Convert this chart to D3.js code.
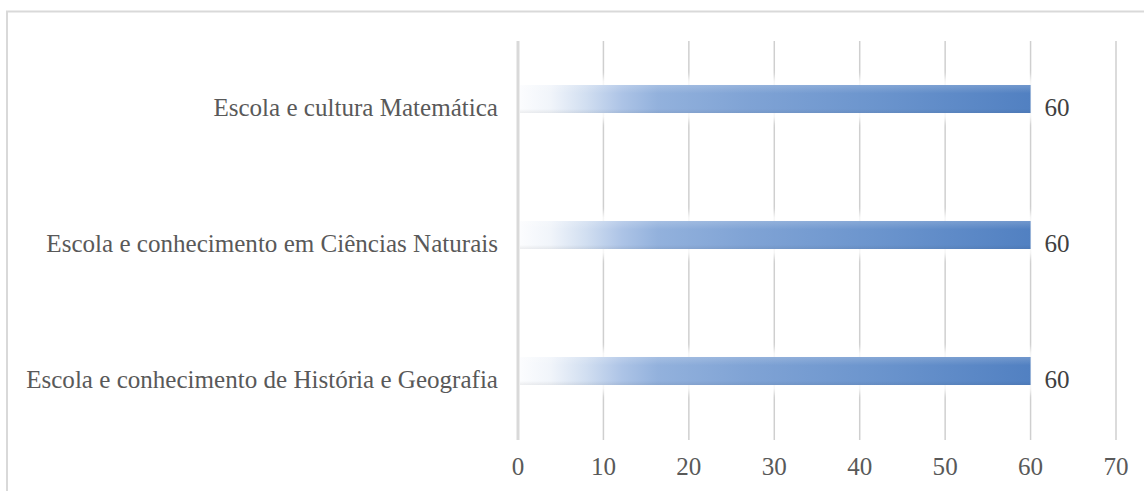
<!DOCTYPE html>
<html>
<head>
<meta charset="utf-8">
<script src="https://cdn.jsdelivr.net/npm/d3@7"></script>
<style>
  html, body { margin: 0; padding: 0; background: #ffffff; }
  svg { display: block; }
  text { font-family: "Liberation Serif", "Times New Roman", serif; }
</style>
</head>
<body>
<svg id="chart" width="1144" height="491"></svg>
<script>
// Categories, top to bottom
const categories = [
  "Escola e cultura Matemática",
  "Escola e conhecimento em Ciências Naturais",
  "Escola e conhecimento de História e Geografia"
];
// Value of each category
const values = [60, 60, 60];
// Tick labels of the value axis
const xTicks = [0, 10, 20, 30, 40, 50, 60, 70];

const svg = d3.select("#chart");
const W = 1144, H = 491;

// Frame around the chart (runs past the right and bottom edges)
svg.append("rect")
  .attr("x", 7).attr("y", 11.5)
  .attr("width", W + 20).attr("height", H + 20)
  .attr("fill", "none")
  .attr("stroke", "#d9d9d9")
  .attr("stroke-width", 2);

const plotTop = 41, plotBottom = 440;

const x = d3.scaleLinear().domain([0, 70]).range([518, 1116]);
const y = d3.scaleBand()
  .domain(categories)
  .range([31, 439])
  .paddingInner(0.794)
  .paddingOuter(0.397);

// Bar gradient: fades in from white on the left to a steel blue on the right
const defs = svg.append("defs");
const grad = defs.append("linearGradient")
  .attr("id", "barGrad")
  .attr("x1", "0%").attr("x2", "100%").attr("y1", "0%").attr("y2", "0%");
[
  [0.00, "#fbfcfe"],
  [0.06, "#f0f4fa"],
  [0.13, "#cfddf0"],
  [0.20, "#a9c1e5"],
  [0.27, "#8eaedb"],
  [0.45, "#7a9fd3"],
  [0.70, "#6590cb"],
  [1.00, "#4a7bbf"]
].forEach(([o, c]) => grad.append("stop").attr("offset", o).attr("stop-color", c));

const vGrad = defs.append("linearGradient")
  .attr("id", "barShade")
  .attr("x1", "0").attr("x2", "0").attr("y1", "0").attr("y2", "1");
vGrad.append("stop").attr("offset", 0).attr("stop-color", "#ffffff").attr("stop-opacity", 0.18);
vGrad.append("stop").attr("offset", 0.3).attr("stop-color", "#ffffff").attr("stop-opacity", 0);
vGrad.append("stop").attr("offset", 0.85).attr("stop-color", "#000000").attr("stop-opacity", 0);
vGrad.append("stop").attr("offset", 1).attr("stop-color", "#000000").attr("stop-opacity", 0.06);

const blur = defs.append("filter").attr("id", "glow")
  .attr("x", "-5%").attr("y", "-60%").attr("width", "110%").attr("height", "220%");
blur.append("feGaussianBlur").attr("stdDeviation", 3);

// Vertical gridlines
svg.append("g")
  .selectAll("line")
  .data(xTicks.filter(t => t > 0))
  .join("line")
  .attr("x1", d => x(d)).attr("x2", d => x(d))
  .attr("y1", plotTop).attr("y2", plotBottom)
  .attr("stroke", "#cfcfcf")
  .attr("stroke-width", 1.5);

// Soft white halo behind each bar
svg.append("g")
  .selectAll("rect")
  .data(values)
  .join("rect")
  .attr("x", x(0) + 3)
  .attr("y", (d, i) => y(categories[i]) - 8)
  .attr("width", d => x(d) - x(0) + 5)
  .attr("height", y.bandwidth() + 16)
  .attr("fill", "#ffffff")
  .attr("opacity", 0.85)
  .attr("filter", "url(#glow)");

// Bars
const bars = svg.append("g");
bars.selectAll("rect.bar")
  .data(values)
  .join("rect")
  .attr("class", "bar")
  .attr("x", x(0) + 2)
  .attr("y", (d, i) => y(categories[i]))
  .attr("width", d => x(d) - x(0) - 2)
  .attr("height", y.bandwidth())
  .attr("fill", "url(#barGrad)")
  .attr("opacity", 0.96);
bars.selectAll("rect.shade")
  .data(values)
  .join("rect")
  .attr("class", "shade")
  .attr("x", x(0) + 2)
  .attr("y", (d, i) => y(categories[i]))
  .attr("width", d => x(d) - x(0) - 2)
  .attr("height", y.bandwidth())
  .attr("fill", "url(#barShade)");

// Category axis line
svg.append("line")
  .attr("x1", x(0)).attr("x2", x(0))
  .attr("y1", plotTop).attr("y2", plotBottom)
  .attr("stroke", "#d9d9d9")
  .attr("stroke-width", 3);

// Category labels, sized so the longest one spans the left margin
const labelOffset = 8;
const catLabels = svg.append("g")
  .selectAll("text")
  .data(categories)
  .join("text")
  .attr("x", x(0) - 20)
  .attr("y", d => y(d) + y.bandwidth() / 2 + labelOffset)
  .attr("dy", "0.35em")
  .attr("text-anchor", "end")
  .attr("fill", "#595959")
  .style("font-size", "22px")
  .text(d => d);
let maxW = 0;
catLabels.each(function () { maxW = Math.max(maxW, this.getComputedTextLength()); });
const labelSize = 22 * 472 / maxW;
catLabels.style("font-size", labelSize + "px");

// Value labels at the bar ends
svg.append("g")
  .selectAll("text")
  .data(values)
  .join("text")
  .attr("x", d => x(d) + 14)
  .attr("y", (d, i) => y(categories[i]) + y.bandwidth() / 2 + labelOffset)
  .attr("dy", "0.35em")
  .attr("fill", "#404040")
  .style("font-size", labelSize + "px")
  .text(d => d);

// Value axis tick labels
svg.append("g")
  .selectAll("text")
  .data(xTicks)
  .join("text")
  .attr("x", d => x(d))
  .attr("y", 466)
  .attr("dy", "0.35em")
  .attr("text-anchor", "middle")
  .attr("fill", "#595959")
  .style("font-size", labelSize + "px")
  .text(d => d);
</script>
</body>
</html>
